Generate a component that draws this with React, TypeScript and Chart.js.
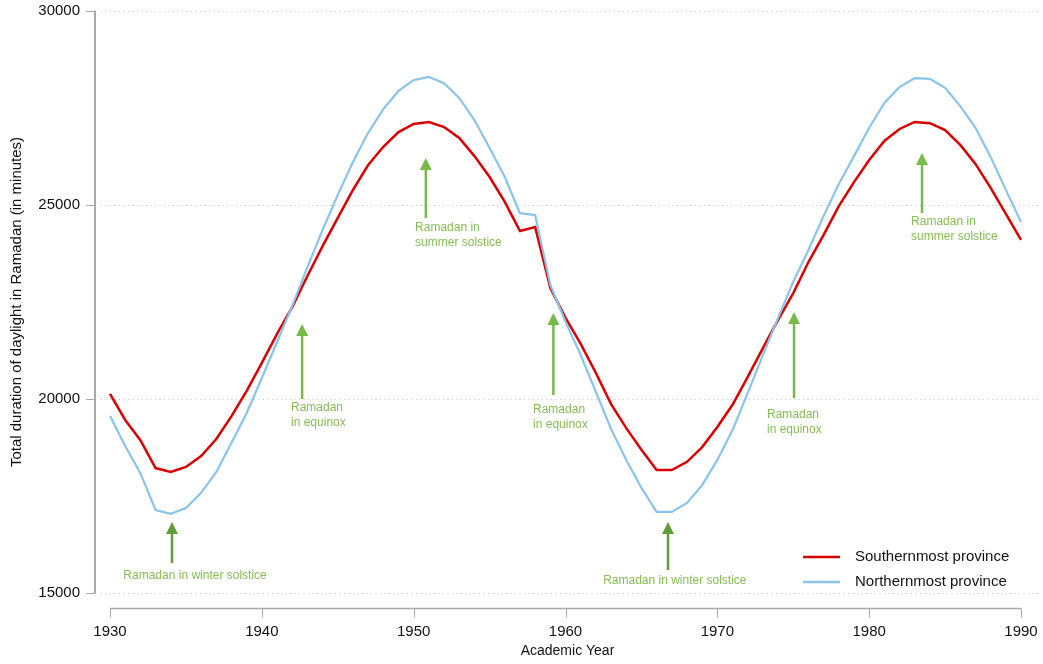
import { useEffect, useRef } from "react";
import { Chart, registerables } from "chart.js";

Chart.register(...registerables);

// Academic years on the horizontal axis
const years = [
  1930, 1931, 1932, 1933, 1934, 1935, 1936, 1937, 1938, 1939,
  1940, 1941, 1942, 1943, 1944, 1945, 1946, 1947, 1948, 1949,
  1950, 1951, 1952, 1953, 1954, 1955, 1956, 1957, 1958, 1959,
  1960, 1961, 1962, 1963, 1964, 1965, 1966, 1967, 1968, 1969,
  1970, 1971, 1972, 1973, 1974, 1975, 1976, 1977, 1978, 1979,
  1980, 1981, 1982, 1983, 1984, 1985, 1986, 1987, 1988, 1989,
  1990,
];

// Total minutes of daylight during Ramadan
const southernmost = [
  20130, 19460, 18940, 18220, 18120, 18250, 18530, 18970, 19560, 20210,
  20930, 21680, 22370, 23170, 23940, 24670, 25390, 26030, 26500, 26880,
  27090, 27140, 27010, 26730, 26260, 25720, 25080, 24330, 24430, 22860,
  22090, 21420, 20670, 19870, 19250, 18690, 18170, 18170, 18380, 18760,
  19280, 19850, 20570, 21310, 22040, 22730, 23530, 24230, 24970, 25590,
  26160, 26650, 26960, 27140, 27110, 26930, 26550, 26060, 25440, 24770,
  24100,
];

const northernmost = [
  19560, 18790, 18090, 17140, 17040, 17190, 17580, 18120, 18870, 19640,
  20540, 21470, 22400, 23400, 24360, 25260, 26110, 26860, 27470, 27940,
  28220, 28300, 28140, 27760, 27190, 26470, 25720, 24790, 24740, 22940,
  21990, 21130, 20180, 19230, 18430, 17710, 17090, 17090, 17320, 17780,
  18430, 19200, 20160, 21130, 22090, 23020, 23840, 24720, 25540, 26260,
  26990, 27630, 28040, 28270, 28250, 28020, 27550, 26990, 26240, 25390,
  24560,
];

const xTicks = [1930, 1940, 1950, 1960, 1970, 1980, 1990];
const yTicks = [15000, 20000, 25000, 30000];
const xRange = [1929.01, 1991.25];

const seriesNames = ["Southernmost province", "Northernmost province"];

// Arrows: year, arrow tip value, arrow tail value, kind
const arrowYears = [1934.08, 1942.65, 1950.8, 1959.2, 1966.75, 1975.05, 1983.48];
const arrowTips = [16830, 21933, 26211, 22216, 16830, 22242, 26340];
const arrowTails = [15773, 20000, 24665, 20103, 15593, 20026, 24794];
const arrowKinds = ["winter", "equinox", "summer", "equinox", "winter", "equinox", "summer"];

// Notes: anchor year, anchor value (first line), alignment, lines
const noteYears = [1935.6, 1941.92, 1950.09, 1957.86, 1967.2, 1973.27, 1982.76];
const noteValues = [15438, 19768, 24407, 19716, 15309, 19588, 24562];
const noteAligns = ["center", "left", "left", "left", "center", "left", "left"];
const noteLines = [
  ["Ramadan in winter solstice"],
  ["Ramadan", "in equinox"],
  ["Ramadan in", "summer solstice"],
  ["Ramadan", "in equinox"],
  ["Ramadan in winter solstice"],
  ["Ramadan", "in equinox"],
  ["Ramadan in", "summer solstice"],
];

const FONT = "'Liberation Sans', Arial, Helvetica, sans-serif";
const RED = "#d80000";
const BLUE = "#8ac4ea";
const AXIS = "#a9a9a9";

const decor = {
  id: "decor",
  beforeDatasetsDraw(chart: any) {
    const { ctx, chartArea: a, scales } = chart;
    const x = scales.x;
    const y = scales.y;
    ctx.save();

    // dotted horizontal grid
    ctx.strokeStyle = "#c2c2c2";
    ctx.lineWidth = 1;
    ctx.setLineDash([1, 3.5]);
    for (const v of yTicks) {
      const py = Math.round(y.getPixelForValue(v)) + 0.5;
      ctx.beginPath();
      ctx.moveTo(a.left + 6, py);
      ctx.lineTo(a.right, py);
      ctx.stroke();
    }
    ctx.setLineDash([]);

    // vertical axis
    ctx.strokeStyle = AXIS;
    ctx.lineWidth = 2;
    const top = y.getPixelForValue(yTicks[yTicks.length - 1]);
    const bot = y.getPixelForValue(yTicks[0]);
    ctx.beginPath();
    ctx.moveTo(a.left, top - 0.5);
    ctx.lineTo(a.left, bot + 0.5);
    ctx.stroke();
    ctx.lineWidth = 1;
    for (const v of yTicks) {
      const py = Math.round(y.getPixelForValue(v)) + 0.5;
      ctx.beginPath();
      ctx.moveTo(a.left - 9, py);
      ctx.lineTo(a.left, py);
      ctx.stroke();
    }

    // horizontal axis, set off below the plot
    const ay = Math.round(a.bottom + 15) + 0.5;
    const x0 = x.getPixelForValue(xTicks[0]);
    const x1 = x.getPixelForValue(xTicks[xTicks.length - 1]);
    ctx.lineWidth = 1.5;
    ctx.beginPath();
    ctx.moveTo(x0, ay);
    ctx.lineTo(x1, ay);
    ctx.stroke();
    ctx.lineWidth = 1;
    for (const v of xTicks) {
      const px = Math.round(x.getPixelForValue(v)) + 0.5;
      ctx.beginPath();
      ctx.moveTo(px, ay);
      ctx.lineTo(px, ay + 9);
      ctx.stroke();
    }
    ctx.restore();
  },
  afterDatasetsDraw(chart: any) {
    const { ctx, chartArea: a, scales } = chart;
    const x = scales.x;
    const y = scales.y;
    ctx.save();

    // arrows
    arrowYears.forEach((yr, i) => {
      const px = x.getPixelForValue(yr);
      const tip = y.getPixelForValue(arrowTips[i]);
      const tail = y.getPixelForValue(arrowTails[i]);
      const col = arrowKinds[i] === "winter" ? "#609d38" : "#79b947";
      ctx.strokeStyle = col;
      ctx.fillStyle = col;
      ctx.lineWidth = 2.5;
      ctx.beginPath();
      ctx.moveTo(px, tail);
      ctx.lineTo(px, tip + 10);
      ctx.stroke();
      ctx.beginPath();
      ctx.moveTo(px, tip);
      ctx.lineTo(px - 6, tip + 12);
      ctx.lineTo(px + 6, tip + 12);
      ctx.closePath();
      ctx.fill();
    });

    // notes
    ctx.font = `12px ${FONT}`;
    ctx.fillStyle = "#85bd55";
    ctx.textBaseline = "middle";
    noteYears.forEach((yr, i) => {
      const px = x.getPixelForValue(yr);
      const py = y.getPixelForValue(noteValues[i]);
      ctx.textAlign = noteAligns[i] as CanvasTextAlign;
      noteLines[i].forEach((line, j) => {
        ctx.fillText(line, px, py + j * 14.5);
      });
    });

    // legend
    const colors = [RED, BLUE];
    const widths = [2.5, 2.5];
    ctx.font = `15px ${FONT}`;
    ctx.textAlign = "left";
    ctx.fillStyle = "#111";
    seriesNames.forEach((name, i) => {
      const ly = a.bottom - 36 + i * 25;
      ctx.strokeStyle = colors[i];
      ctx.lineWidth = widths[i];
      ctx.beginPath();
      ctx.moveTo(a.right - 237, ly);
      ctx.lineTo(a.right - 200, ly);
      ctx.stroke();
      ctx.fillText(name, a.right - 185, ly);
    });
    ctx.restore();
  },
};

export default function App() {
  const ref = useRef<HTMLCanvasElement>(null);

  useEffect(() => {
    if (!ref.current) return;
    const chart = new Chart(ref.current, {
      type: "line",
      data: {
        datasets: [
          {
            label: seriesNames[0],
            data: years.map((yr, i) => ({ x: yr, y: southernmost[i] })),
            borderColor: RED,
            borderWidth: 2.5,
            pointRadius: 0,
            tension: 0,
            order: 2,
          },
          {
            label: seriesNames[1],
            data: years.map((yr, i) => ({ x: yr, y: northernmost[i] })),
            borderColor: BLUE,
            borderWidth: 2.2,
            pointRadius: 0,
            tension: 0,
            order: 1,
          },
        ],
      },
      options: {
        responsive: false,
        animation: false,
        devicePixelRatio: 1,
        layout: { padding: { left: 0, right: 3, top: 11, bottom: 0 } },
        plugins: {
          legend: { display: false },
          tooltip: { enabled: false },
        },
        scales: {
          x: {
            type: "linear",
            min: xRange[0],
            max: xRange[1],
            afterBuildTicks: (s: any) => {
              s.ticks = xTicks.map((v) => ({ value: v }));
            },
            afterFit: (s: any) => {
              s.height = 71;
              s.paddingLeft = 0;
              s.paddingRight = 0;
            },
            grid: { display: false, drawTicks: false },
            border: { display: false },
            ticks: {
              padding: 30,
              color: "#111",
              font: { family: FONT, size: 15 },
              maxRotation: 0,
              autoSkip: false,
              callback: (v: any) => String(v),
            },
            title: {
              display: true,
              text: "Academic Year",
              color: "#111",
              font: { family: FONT, size: 14 },
              padding: { top: 0, bottom: 4 },
            },
          },
          y: {
            type: "linear",
            min: yTicks[0],
            max: yTicks[yTicks.length - 1],
            afterBuildTicks: (s: any) => {
              s.ticks = yTicks.map((v) => ({ value: v }));
            },
            afterFit: (s: any) => {
              s.width = 95;
              s.paddingTop = 0;
              s.paddingBottom = 0;
            },
            grid: { display: false, drawTicks: false },
            border: { display: false },
            ticks: {
              padding: 15,
              color: "#111",
              font: { family: FONT, size: 15 },
              callback: (v: any) => String(v),
            },
            title: {
              display: true,
              text: "Total duration of daylight in Ramadan (in minutes)",
              color: "#111",
              font: { family: FONT, size: 15 },
              padding: { top: 8, bottom: 0 },
            },
          },
        },
      },
      plugins: [decor],
    });
    return () => chart.destroy();
  }, []);

  return (
    <div style={{ position: "absolute", left: 0, top: 0, width: 1043, height: 664 }}>
      <canvas ref={ref} width={1043} height={664} style={{ display: "block" }} />
    </div>
  );
}
